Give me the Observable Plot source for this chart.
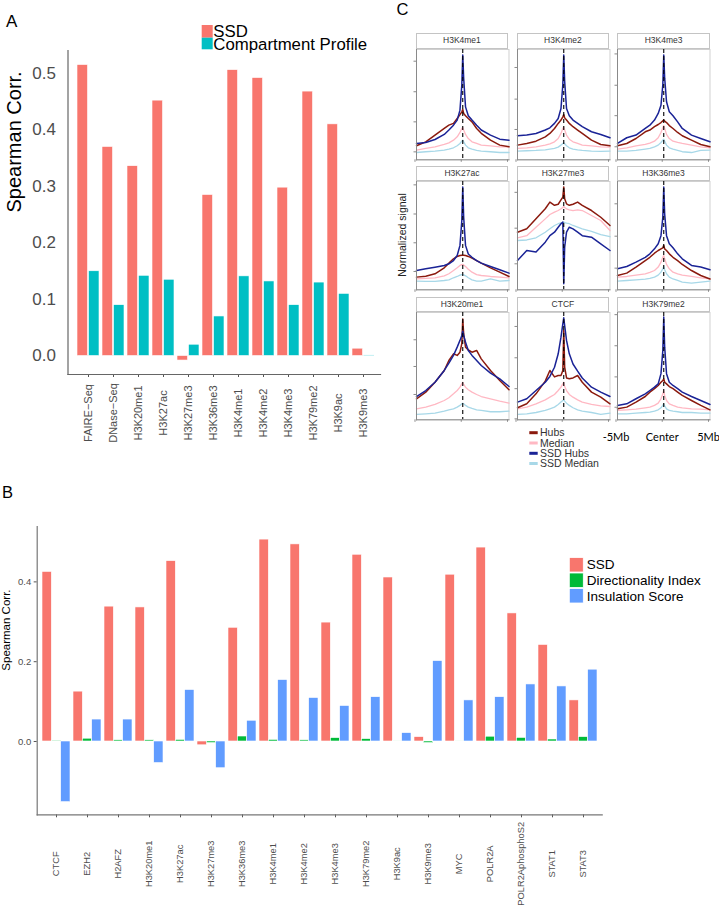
<!DOCTYPE html>
<html><head><meta charset="utf-8">
<script src="https://cdn.jsdelivr.net/npm/d3@7"></script>
<script src="https://cdn.jsdelivr.net/npm/@observablehq/plot@0.6"></script>
<style>
html,body{margin:0;padding:0;background:#fff;}
#root{position:relative;width:719px;height:905px;overflow:hidden;font-family:"Liberation Sans",Arial,sans-serif;}
</style></head><body><div id="root"></div>
<script>
// ---------- Panel A data ----------
const markersA = ["FAIRE−Seq","DNase−Seq","H3K20me1","H3K27ac","H3K27me3","H3K36me3","H3K4me1","H3K4me2","H3K4me3","H3K79me2","H3K9ac","H3K9me3"];
const ssdA = [0.515,0.370,0.336,0.452,-0.008,0.285,0.506,0.492,0.298,0.468,0.410,0.013];
const compartmentA = [0.150,0.090,0.142,0.135,0.020,0.070,0.141,0.132,0.090,0.130,0.110,0.001];
const yTicksA = [0,0.1,0.2,0.3,0.4,0.5];
const seriesA = ["SSD","Compartment Profile"];
const colorsA = ["#F8766D","#00BFC4"];

// ---------- Panel B data ----------
const markersB = ["CTCF","EZH2","H2AFZ","H3K20me1","H3K27ac","H3K27me3","H3K36me3","H3K4me1","H3K4me2","H3K4me3","H3K79me2","H3K9ac","H3K9me3","MYC","POLR2A","POLR2AphosphoS2","STAT1","STAT3"];
const ssdB = [0.425,0.125,0.338,0.336,0.452,-0.0095,0.285,0.506,0.494,0.298,0.468,0.411,0.011,0.418,0.486,0.321,0.242,0.103];
const directionalityB = [0.002,0.007,0.003,0.003,0.004,-0.004,0.0125,0.004,0.003,0.0085,0.006,0.001,-0.004,0.001,0.012,0.009,0.005,0.011];
const insulationB = [-0.152,0.055,0.055,-0.054,0.129,-0.067,0.052,0.154,0.109,0.089,0.111,0.021,0.2015,0.103,0.111,0.143,0.138,0.180];
const yTicksB = [0,0.2,0.4];
const seriesB = ["SSD","Directionality Index","Insulation Score"];
const colorsB = ["#F8766D","#00BA38","#619CFF"];

// ---------- Panel C data (normalized signal, 0 = panel bottom, 1 = panel top) ----------
const xsC = [-5,-4,-3,-2,-1.5,-1,-0.6,-0.3,-0.1,0,0.1,0.3,0.6,1,1.5,2,3,4,5];
const xTicksC = [-5,0,5];
const xLabelsC = ["-5Mb","Center","5Mb"];
const seriesC = ["Hubs","Median","SSD Hubs","SSD Median"];
const colorsC = ["#8b1a0e","#ffb8c3","#1a2396","#a8d8e8"];

const H3K4me1_hubs      = [0.127,0.163,0.224,0.284,0.314,0.33,0.375,0.41,0.435,0.456,0.42,0.40,0.375,0.344,0.284,0.24,0.178,0.133,0.118];
const H3K4me1_median    = [0.088,0.103,0.118,0.139,0.154,0.178,0.208,0.248,0.284,0.293,0.27,0.23,0.193,0.163,0.148,0.133,0.127,0.118,0.118];
const H3K4me1_ssdHubs   = [0.148,0.157,0.184,0.23,0.27,0.314,0.36,0.45,0.68,0.95,0.74,0.48,0.40,0.36,0.314,0.27,0.224,0.187,0.178];
const H3K4me1_ssdMedian = [0.066,0.073,0.079,0.088,0.097,0.109,0.127,0.148,0.169,0.178,0.163,0.133,0.109,0.097,0.085,0.079,0.073,0.066,0.066];
const H3K4me1_ticks = [0.072,0.344,0.617,0.894];

const H3K4me2_hubs      = [0.133,0.148,0.169,0.208,0.239,0.284,0.33,0.36,0.39,0.41,0.38,0.36,0.33,0.30,0.27,0.239,0.178,0.139,0.127];
const H3K4me2_median    = [0.103,0.109,0.118,0.133,0.145,0.163,0.193,0.239,0.284,0.30,0.27,0.224,0.187,0.163,0.148,0.133,0.127,0.118,0.115];
const H3K4me2_ssdHubs   = [0.218,0.224,0.239,0.27,0.29,0.33,0.375,0.465,0.68,0.95,0.71,0.465,0.40,0.36,0.33,0.30,0.254,0.23,0.20];
const H3K4me2_ssdMedian = [0.079,0.082,0.085,0.09,0.097,0.103,0.115,0.133,0.148,0.154,0.145,0.127,0.109,0.097,0.09,0.085,0.079,0.076,0.079];
const H3K4me2_ticks = [0.275,0.55,0.837];

const H3K4me3_hubs      = [0.127,0.148,0.193,0.254,0.27,0.30,0.32,0.338,0.353,0.36,0.35,0.338,0.31,0.284,0.248,0.218,0.178,0.139,0.118];
const H3K4me3_median    = [0.097,0.109,0.127,0.139,0.151,0.169,0.20,0.248,0.29,0.31,0.284,0.23,0.193,0.169,0.157,0.148,0.133,0.118,0.109];
const H3K4me3_ssdHubs   = [0.148,0.2,0.224,0.284,0.314,0.36,0.42,0.495,0.68,0.95,0.74,0.526,0.435,0.40,0.344,0.284,0.224,0.193,0.163];
const H3K4me3_ssdMedian = [0.079,0.079,0.085,0.097,0.103,0.118,0.133,0.157,0.178,0.187,0.169,0.133,0.109,0.097,0.085,0.073,0.066,0.085,0.088];
const H3K4me3_ticks = [0.118,0.40,0.676,0.96];

const H3K27ac_hubs      = [0.117,0.126,0.148,0.203,0.246,0.286,0.308,0.317,0.32,0.32,0.32,0.317,0.308,0.292,0.27,0.246,0.203,0.163,0.123];
const H3K27ac_median    = [0.10,0.105,0.111,0.129,0.148,0.178,0.203,0.225,0.232,0.234,0.23,0.215,0.19,0.163,0.14,0.132,0.123,0.117,0.111];
const H3K27ac_ssdHubs   = [0.178,0.194,0.209,0.225,0.24,0.27,0.317,0.41,0.64,0.95,0.67,0.41,0.33,0.30,0.27,0.246,0.215,0.185,0.154];
const H3K27ac_ssdMedian = [0.08,0.077,0.077,0.086,0.092,0.111,0.123,0.135,0.14,0.141,0.138,0.129,0.111,0.092,0.08,0.08,0.10,0.08,0.086];
const H3K27ac_ticks = [0.169,0.434,0.70,0.969];

const H3K27me3_hubs      = [0.532,0.563,0.655,0.748,0.81,0.78,0.79,0.83,0.855,0.95,0.84,0.794,0.78,0.79,0.81,0.78,0.732,0.67,0.594];
const H3K27me3_median    = [0.48,0.50,0.578,0.655,0.695,0.717,0.732,0.748,0.76,0.77,0.76,0.748,0.738,0.732,0.738,0.732,0.686,0.64,0.548];
const H3K27me3_ssdHubs   = [0.27,0.363,0.348,0.44,0.50,0.532,0.578,0.61,0.625,0.055,0.394,0.532,0.578,0.563,0.532,0.50,0.486,0.425,0.363];
const H3K27me3_ssdMedian = [0.455,0.46,0.48,0.532,0.563,0.594,0.61,0.618,0.622,0.625,0.62,0.615,0.61,0.594,0.578,0.563,0.54,0.51,0.49];
const H3K27me3_ticks = [0.24,0.569,0.90];

const H3K36me3_hubs      = [0.132,0.154,0.21,0.27,0.30,0.338,0.363,0.378,0.388,0.41,0.378,0.363,0.332,0.30,0.27,0.234,0.178,0.132,0.10];
const H3K36me3_median    = [0.117,0.123,0.135,0.148,0.16,0.178,0.21,0.255,0.30,0.317,0.286,0.234,0.194,0.163,0.148,0.135,0.123,0.111,0.10];
const H3K36me3_ssdHubs   = [0.194,0.215,0.255,0.30,0.332,0.378,0.425,0.50,0.67,0.95,0.70,0.50,0.425,0.388,0.332,0.286,0.225,0.21,0.185];
const H3K36me3_ssdMedian = [0.08,0.086,0.092,0.098,0.105,0.117,0.135,0.163,0.194,0.215,0.185,0.148,0.117,0.10,0.086,0.071,0.062,0.071,0.08];
const H3K36me3_ticks = [0.20,0.495,0.794];

const H3K20me1_hubs      = [0.196,0.258,0.35,0.46,0.553,0.615,0.60,0.63,0.71,0.94,0.80,0.677,0.652,0.63,0.646,0.568,0.46,0.366,0.28];
const H3K20me1_median    = [0.102,0.118,0.143,0.18,0.205,0.242,0.273,0.304,0.335,0.35,0.33,0.304,0.28,0.258,0.236,0.217,0.196,0.174,0.155];
const H3K20me1_ssdHubs   = [0.217,0.273,0.35,0.46,0.528,0.60,0.677,0.74,0.786,0.826,0.786,0.724,0.646,0.60,0.553,0.506,0.435,0.382,0.31];
const H3K20me1_ssdMedian = [0.05,0.056,0.062,0.08,0.093,0.102,0.118,0.134,0.149,0.155,0.149,0.134,0.118,0.106,0.093,0.087,0.075,0.075,0.08];
const H3K20me1_ticks = [0.236,0.497,0.746];

const CTCF_hubs      = [0.112,0.149,0.242,0.36,0.46,0.40,0.413,0.413,0.46,0.832,0.49,0.39,0.382,0.39,0.413,0.35,0.258,0.211,0.149];
const CTCF_median    = [0.102,0.118,0.149,0.186,0.211,0.236,0.273,0.304,0.335,0.35,0.31,0.273,0.236,0.211,0.186,0.165,0.143,0.13,0.124];
const CTCF_ssdHubs   = [0.165,0.196,0.273,0.35,0.404,0.49,0.615,0.77,0.894,0.95,0.879,0.74,0.615,0.52,0.453,0.39,0.304,0.258,0.217];
const CTCF_ssdMedian = [0.05,0.056,0.068,0.087,0.102,0.118,0.143,0.165,0.18,0.186,0.174,0.155,0.134,0.112,0.093,0.08,0.068,0.05,0.062];
const CTCF_ticks = [0.009,0.29,0.578,0.87];

const H3K79me2_hubs      = [0.102,0.118,0.165,0.217,0.258,0.29,0.32,0.35,0.366,0.382,0.35,0.335,0.31,0.29,0.258,0.227,0.18,0.134,0.093];
const H3K79me2_median    = [0.087,0.093,0.10,0.112,0.118,0.134,0.155,0.196,0.242,0.273,0.227,0.18,0.149,0.134,0.118,0.112,0.102,0.10,0.093];
const H3K79me2_ssdHubs   = [0.134,0.149,0.196,0.242,0.273,0.304,0.335,0.43,0.646,0.957,0.677,0.43,0.35,0.32,0.29,0.258,0.217,0.18,0.143];
const H3K79me2_ssdMedian = [0.056,0.056,0.062,0.068,0.071,0.08,0.093,0.112,0.134,0.149,0.13,0.102,0.087,0.08,0.075,0.068,0.068,0.062,0.062];
const H3K79me2_ticks = [0.117,0.40,0.69,0.98];

const FONT = '"Liberation Sans", Arial, Helvetica, sans-serif';
const root = document.getElementById("root");
function place(el, left, top) {
  el.style.position = "absolute";
  el.style.left = left + "px";
  el.style.top = top + "px";
  el.style.overflow = "visible";
  el.style.maxWidth = "none";
  root.appendChild(el);
}

// ================= Panel A =================
{
  const table = markersA.map((m, i) => ({marker: m, ssd: ssdA[i], cp: compartmentA[i]}));
  const L = 67.5, R = 380, T = 50, B = 374, W = 390, H = 460;
  const pi = 0.107, po = 0.12;
  const step = (R - L) / (markersA.length - pi + 2 * po);
  const bw = step * (1 - pi);
  const plot = Plot.plot({
    width: W, height: H, marginLeft: L, marginRight: W - R, marginTop: T, marginBottom: H - B,
    style: {background: "transparent", fontFamily: FONT, overflow: "visible"},
    x: {type: "band", domain: markersA, paddingInner: pi, paddingOuter: po, align: 0.6, label: null},
    y: {domain: [-0.0327, 0.5407], label: null},
    marks: [
      Plot.barY(table, {x: "marker", y: "ssd", fill: colorsA[0], stroke: "white", strokeWidth: 0.6, insetRight: bw / 2}),
      Plot.barY(table, {x: "marker", y: "cp", fill: colorsA[1], stroke: "white", strokeWidth: 0.6, insetLeft: bw / 2}),
      Plot.axisY({ticks: yTicksA, tickFormat: d3.format(".1f"), tickSize: 0, tickPadding: 12, fontSize: 17, fill: "#4d4d4d", stroke: "#4d4d4d", label: null}),
      Plot.axisX({tickSize: 3, tickRotate: -90, textAnchor: "middle", tickPadding: 35.5, fontSize: 11, fill: "#4d4d4d", stroke: "#555", label: null}),
      Plot.frame({anchor: "left", stroke: "#666", strokeWidth: 1.2}),
      Plot.frame({anchor: "bottom", stroke: "#666", strokeWidth: 1.2}),
      Plot.text(["Spearman Corr."], {text: d => d, frameAnchor: "left", rotate: -90, dx: -53, fontSize: 20, fill: "#000"})
    ]
  });
  place(plot, 0, 0);
}

// ================= Panel B =================
{
  const table = markersB.map((m, i) => ({marker: m, ssd: ssdB[i], di: directionalityB[i], is: insulationB[i]}));
  const top = 500, L = 36.7, R = 601.7, T = 526 - top, B = 814.3 - top, W = 719, H = 405;
  const pi = 0.099, po = 0.142;
  const step = (R - L) / (markersB.length - pi + 2 * po);
  const bw = step * (1 - pi);
  const plot = Plot.plot({
    width: W, height: H, marginLeft: L, marginRight: W - R, marginTop: T, marginBottom: H - B,
    style: {background: "transparent", fontFamily: FONT, overflow: "visible"},
    x: {type: "band", domain: markersB, paddingInner: pi, paddingOuter: po, align: 0.5, label: null},
    y: {domain: [-0.1837, 0.5388], label: null},
    marks: [
      Plot.barY(table, {x: "marker", y: "ssd", fill: colorsB[0], stroke: "white", strokeWidth: 0.6, insetRight: 2 * bw / 3}),
      Plot.barY(table, {x: "marker", y: "di", fill: colorsB[1], stroke: "white", strokeWidth: 0.6, insetLeft: bw / 3, insetRight: bw / 3}),
      Plot.barY(table, {x: "marker", y: "is", fill: colorsB[2], stroke: "white", strokeWidth: 0.6, insetLeft: 2 * bw / 3}),
      Plot.axisY({ticks: yTicksB, tickFormat: d3.format(".1f"), tickSize: 3, tickPadding: 3, fontSize: 9.5, fill: "#4d4d4d", stroke: "#555", label: null}),
      Plot.axisX({tickSize: 3, tickRotate: -90, textAnchor: "middle", tickPadding: 46, fontSize: 9.3, fill: "#4d4d4d", stroke: "#555", label: null}),
      Plot.frame({anchor: "left", stroke: "#777", strokeWidth: 1.2}),
      Plot.frame({anchor: "bottom", stroke: "#777", strokeWidth: 1.2}),
      Plot.text(["Spearman Corr."], {text: d => d, frameAnchor: "left", rotate: -90, dx: -30.5, fontSize: 11.5, fill: "#000"})
    ]
  });
  place(plot, 0, top);
}

// ================= Panel C =================
const panelsC = [
  {name: "H3K4me1", col: 0, row: 0, ticks: H3K4me1_ticks, s: [H3K4me1_hubs, H3K4me1_median, H3K4me1_ssdHubs, H3K4me1_ssdMedian]},
  {name: "H3K4me2", col: 1, row: 0, ticks: H3K4me2_ticks, s: [H3K4me2_hubs, H3K4me2_median, H3K4me2_ssdHubs, H3K4me2_ssdMedian]},
  {name: "H3K4me3", col: 2, row: 0, ticks: H3K4me3_ticks, s: [H3K4me3_hubs, H3K4me3_median, H3K4me3_ssdHubs, H3K4me3_ssdMedian]},
  {name: "H3K27ac", col: 0, row: 1, ticks: H3K27ac_ticks, s: [H3K27ac_hubs, H3K27ac_median, H3K27ac_ssdHubs, H3K27ac_ssdMedian]},
  {name: "H3K27me3", col: 1, row: 1, ticks: H3K27me3_ticks, s: [H3K27me3_hubs, H3K27me3_median, H3K27me3_ssdHubs, H3K27me3_ssdMedian]},
  {name: "H3K36me3", col: 2, row: 1, ticks: H3K36me3_ticks, s: [H3K36me3_hubs, H3K36me3_median, H3K36me3_ssdHubs, H3K36me3_ssdMedian]},
  {name: "H3K20me1", col: 0, row: 2, ticks: H3K20me1_ticks, s: [H3K20me1_hubs, H3K20me1_median, H3K20me1_ssdHubs, H3K20me1_ssdMedian]},
  {name: "CTCF", col: 1, row: 2, ticks: CTCF_ticks, s: [CTCF_hubs, CTCF_median, CTCF_ssdHubs, CTCF_ssdMedian]},
  {name: "H3K79me2", col: 2, row: 2, ticks: H3K79me2_ticks, s: [H3K79me2_hubs, H3K79me2_median, H3K79me2_ssdHubs, H3K79me2_ssdMedian], showX: true}
];
const colX = [415.7, 516.7, 617.3];
const panelW = 92.5;
const rowTop = [49, 181, 312];
const rowH = [110.3, 108.3, 107.3];
const stripTop = [33.3, 165.7, 296.7];
const drawOrder = [3, 1, 0, 2];
const widths = [1.5, 1.3, 1.5, 1.3];

for (const p of panelsC) {
  const x0 = colX[p.col], top = rowTop[p.row], h = rowH[p.row];
  const mL = 22, mR = 8, mT = 2, mB = 32;
  const lineMarks = drawOrder.map(k =>
    Plot.lineY(xsC.map((x, i) => ({x, v: p.s[k][i]})), {x: "x", y: "v", stroke: colorsC[k], strokeWidth: widths[k]})
  );
  const plot = Plot.plot({
    width: panelW + mL + mR, height: h + mT + mB,
    marginLeft: mL, marginRight: mR, marginTop: mT, marginBottom: mB,
    style: {background: "transparent", fontFamily: FONT, overflow: "visible"},
    x: {domain: [-5, 5], label: null},
    y: {domain: [0, 1], label: null},
    marks: [
      Plot.frame({stroke: "#d0d0d0"}),
      ...lineMarks,
      Plot.ruleX([0], {stroke: "#000", strokeDasharray: "4,3", strokeWidth: 1.1}),
      Plot.frame({anchor: "left", stroke: "#8a8a8a"}),
      Plot.frame({anchor: "bottom", stroke: "#8a8a8a"}),
      Plot.axisY({ticks: p.ticks, tickSize: 2.5, tickFormat: () => "", stroke: "#8a8a8a", label: null}),
      Plot.axisX({ticks: xTicksC, tickSize: 2.5, tickPadding: 11, dx: -1.5,
        tickFormat: p.showX ? (d => xLabelsC[xTicksC.indexOf(d)]) : () => "",
        fontSize: 11, fontFamily: 'Lato, "Open Sans", sans-serif', fill: "#000", stroke: "#8a8a8a", label: null})
    ]
  });
  place(plot, x0 - mL, top - mT);

  const s = document.createElement("div");
  s.textContent = p.name;
  const sh = top - stripTop[p.row];
  Object.assign(s.style, {
    position: "absolute", left: x0 + "px", top: stripTop[p.row] + "px", width: panelW + "px", height: sh + "px",
    border: "1px solid #c4c4c4", boxSizing: "border-box", fontFamily: FONT, fontSize: "8.5px", color: "#333",
    textAlign: "center", lineHeight: (sh - 2) + "px", background: "#fff"
  });
  root.appendChild(s);
}

// ================= Overlay: panel letters, legends, shared label =================
{
  const ns = "http://www.w3.org/2000/svg";
  const svg = d3.create("svg").attr("xmlns", ns).attr("width", 719).attr("height", 905)
    .style("position", "absolute").style("left", "0px").style("top", "0px")
    .style("font-family", FONT).style("pointer-events", "none");
  svg.append("text").attr("x", 6).attr("y", 27).attr("font-size", 17).text("A");
  svg.append("text").attr("x", 2).attr("y", 498.3).attr("font-size", 16.5).text("B");
  svg.append("text").attr("x", 396.5).attr("y", 15).attr("font-size", 16.5).text("C");

  // Legend A
  const aY = [25, 37.7], aH = [12.7, 11.6], aBase = [36.8, 49.6];
  seriesA.forEach((name, i) => {
    svg.append("rect").attr("x", 201.7).attr("y", aY[i]).attr("width", 11).attr("height", aH[i]).attr("fill", colorsA[i]);
    svg.append("text").attr("x", 213.3).attr("y", aBase[i]).attr("font-size", 16.8).attr("fill", "#000").text(name);
  });

  // Legend B
  const bY = [557.5, 573, 588.5], bBase = [568.8, 584.8, 600.8];
  seriesB.forEach((name, i) => {
    svg.append("rect").attr("x", 569.3).attr("y", bY[i]).attr("width", 14).attr("height", 14.5)
      .attr("fill", colorsB[i]).attr("stroke", "white").attr("stroke-width", 0.8);
    svg.append("text").attr("x", 586.7).attr("y", bBase[i]).attr("font-size", 13.5).attr("fill", "#000").text(name);
  });

  // Legend C
  const cY = [432.7, 443, 453.3, 463.5];
  seriesC.forEach((name, i) => {
    svg.append("line").attr("x1", 529.3).attr("x2", 537.7).attr("y1", cY[i]).attr("y2", cY[i])
      .attr("stroke", colorsC[i]).attr("stroke-width", 3);
    svg.append("text").attr("x", 540).attr("y", cY[i] + 3.7).attr("font-size", 10.5).attr("fill", "#333").text(name);
  });

  svg.append("text").attr("transform", "translate(406.3,235) rotate(-90)").attr("text-anchor", "middle")
    .attr("font-size", 10.5).attr("fill", "#222").text("Normalized signal");

  root.appendChild(svg.node());
}
</script>
</body></html>
